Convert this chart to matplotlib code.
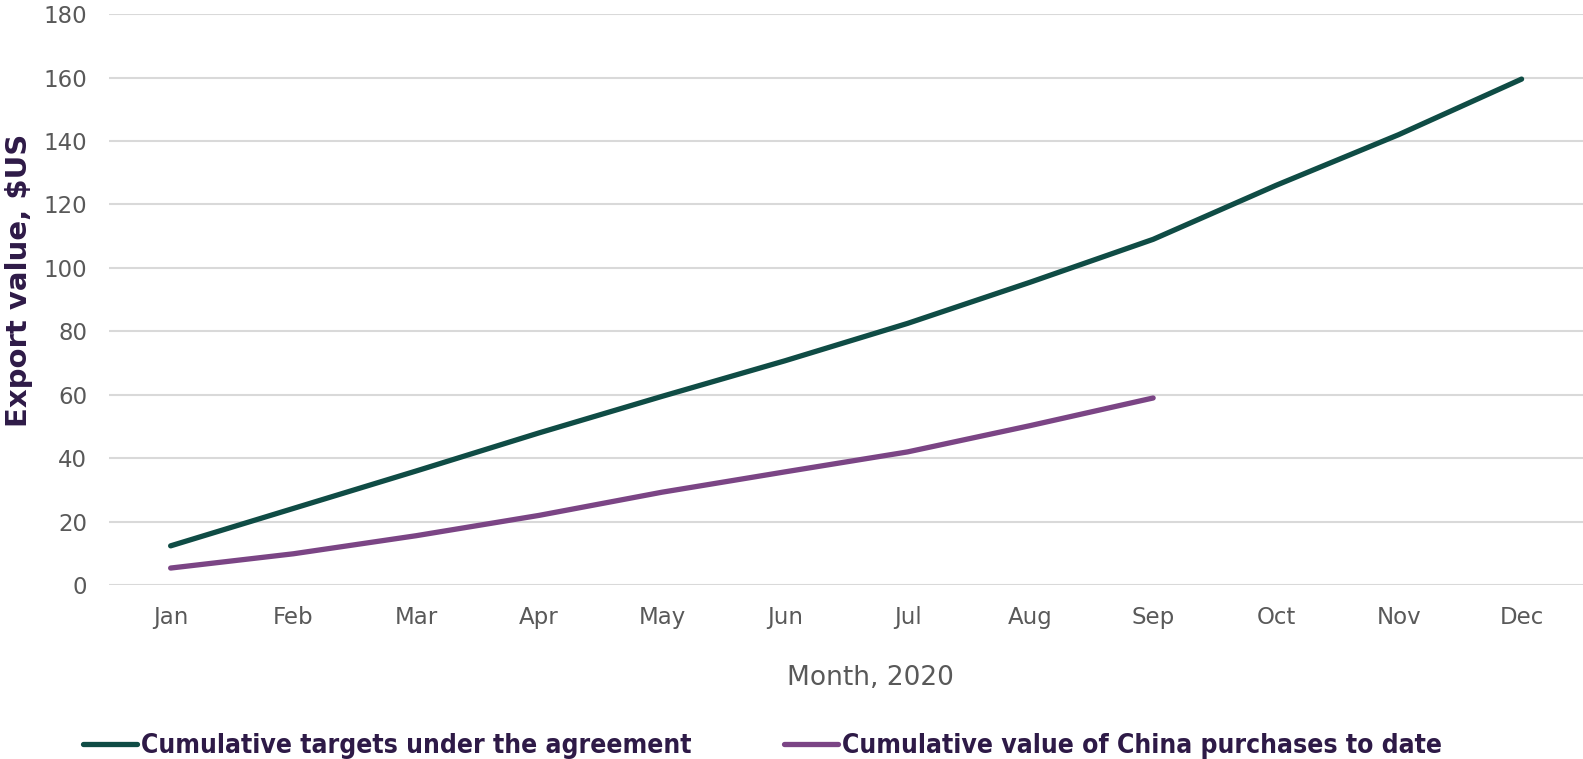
import matplotlib
matplotlib.use("Agg")
import matplotlib.pyplot as plt

# data
months = ["Jan", "Feb", "Mar", "Apr", "May", "Jun", "Jul", "Aug", "Sep", "Oct", "Nov", "Dec"]
targets = [12.4, 24.2, 36.0, 48.0, 59.5, 70.7, 82.5, 95.5, 109.0, 126.0, 142.0, 159.5]
purchases = [5.4, 9.9, 15.6, 22.0, 29.3, 35.7, 42.0, 50.3, 59.0]
yticks = [0, 20, 40, 60, 80, 100, 120, 140, 160, 180]

green = "#0F4C45"
purple = "#7B4585"
label_col = "#2E1A47"
tick_col = "#595959"

plt.rcParams["font.family"] = ["DejaVu Sans"]

fig = plt.figure(figsize=(15.83, 7.59), dpi=100)
ax = fig.add_axes([0.069, 0.229, 0.931, 0.7525])

x = list(range(len(months)))
ax.plot(x, targets, color=green, lw=3.8, solid_capstyle="round",
        label="Cumulative targets under the agreement")
ax.plot(x[:len(purchases)], purchases, color=purple, lw=3.8, solid_capstyle="round",
        label="Cumulative value of China purchases to date")

ax.set_xlim(-0.5, 11.5)
ax.set_ylim(0, 180)
ax.set_yticks(yticks)
ax.set_xticks(x)
ax.set_xticklabels(months)
ax.tick_params(axis="both", length=0, labelsize=16.5, labelcolor=tick_col)
ax.tick_params(axis="x", pad=15)
ax.tick_params(axis="y", pad=16)
ax.grid(axis="y", color="#D9D9D9", lw=1.5)
ax.set_axisbelow(True)
for s in ax.spines.values():
    s.set_visible(False)

fig.text(870 / 1583, 1 - 678 / 759, "Month, 2020", ha="center", va="center",
         fontsize=19, color=tick_col)
fig.text(19 / 1583, 1 - 280 / 759, "Export value, $US", ha="center", va="center",
         rotation=90, fontsize=21, fontweight="bold", color=label_col)

leg = fig.legend(loc="center left", bbox_to_anchor=(83 / 1583, 1 - 746 / 759), ncol=2,
                 frameon=False, handlelength=2.05, handletextpad=0.15, columnspacing=3.5,
                 prop={"family": "DejaVu Sans", "stretch": "condensed", "weight": "bold", "size": 19},
                 borderaxespad=0, borderpad=0)
for t in leg.get_texts():
    t.set_color(label_col)

fig.savefig("out.png", dpi=100)
